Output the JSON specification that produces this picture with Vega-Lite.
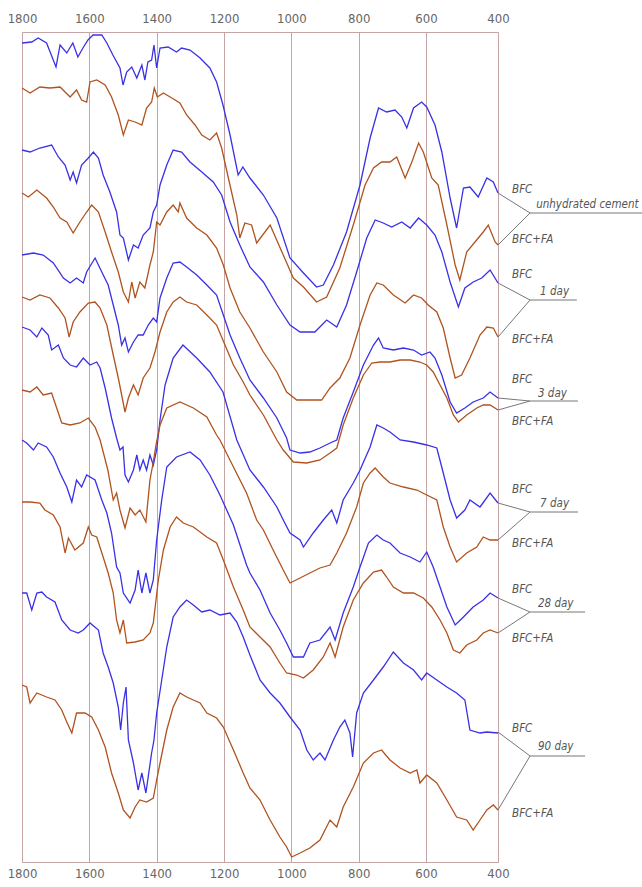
{
"$schema":"https://vega.github.io/schema/vega-lite/v6.json",
"width":476,"height":830,"autosize":"none",
"padding":{"left":22,"top":32,"right":144,"bottom":25},
"background":"white",
"config":{"view":{"stroke":"#c4a4a4","strokeWidth":1}},
"datasets":{
"spectra":[
{"s":1,"w":1800,"v":819},{"s":1,"w":1771,"v":820},{"s":1,"w":1752,"v":824},{"s":1,"w":1727,"v":819},{"s":1,"w":1699,"v":795},{"s":1,"w":1687,"v":817},{"s":1,"w":1667,"v":809},{"s":1,"w":1649,"v":819},{"s":1,"w":1634,"v":805},{"s":1,"w":1619,"v":814},{"s":1,"w":1604,"v":822},{"s":1,"w":1589,"v":827},{"s":1,"w":1563,"v":827},{"s":1,"w":1548,"v":819},{"s":1,"w":1530,"v":807},{"s":1,"w":1509,"v":794},{"s":1,"w":1500,"v":777},{"s":1,"w":1489,"v":790},{"s":1,"w":1474,"v":795},{"s":1,"w":1459,"v":784},{"s":1,"w":1444,"v":797},{"s":1,"w":1435,"v":782},{"s":1,"w":1426,"v":800},{"s":1,"w":1415,"v":802},{"s":1,"w":1408,"v":817},{"s":1,"w":1400,"v":794},{"s":1,"w":1390,"v":814},{"s":1,"w":1366,"v":815},{"s":1,"w":1341,"v":810},{"s":1,"w":1326,"v":814},{"s":1,"w":1301,"v":812},{"s":1,"w":1271,"v":804},{"s":1,"w":1242,"v":794},{"s":1,"w":1222,"v":780},{"s":1,"w":1203,"v":757},{"s":1,"w":1182,"v":727},{"s":1,"w":1158,"v":687},{"s":1,"w":1144,"v":695},{"s":1,"w":1123,"v":684},{"s":1,"w":1083,"v":667},{"s":1,"w":1043,"v":644},{"s":1,"w":1004,"v":604},{"s":1,"w":964,"v":589},{"s":1,"w":925,"v":575},{"s":1,"w":905,"v":577},{"s":1,"w":875,"v":597},{"s":1,"w":836,"v":630},{"s":1,"w":796,"v":677},{"s":1,"w":766,"v":724},{"s":1,"w":741,"v":754},{"s":1,"w":717,"v":750},{"s":1,"w":692,"v":752},{"s":1,"w":672,"v":745},{"s":1,"w":657,"v":734},{"s":1,"w":637,"v":754},{"s":1,"w":613,"v":760},{"s":1,"w":598,"v":755},{"s":1,"w":575,"v":737},{"s":1,"w":556,"v":710},{"s":1,"w":533,"v":664},{"s":1,"w":515,"v":634},{"s":1,"w":496,"v":674},{"s":1,"w":478,"v":675},{"s":1,"w":455,"v":665},{"s":1,"w":431,"v":684},{"s":1,"w":413,"v":680},{"s":1,"w":400,"v":669},
{"s":2,"w":1800,"v":774},{"s":2,"w":1776,"v":769},{"s":2,"w":1747,"v":775},{"s":2,"w":1717,"v":774},{"s":2,"w":1687,"v":775},{"s":2,"w":1657,"v":765},{"s":2,"w":1638,"v":772},{"s":2,"w":1623,"v":762},{"s":2,"w":1608,"v":760},{"s":2,"w":1598,"v":780},{"s":2,"w":1578,"v":782},{"s":2,"w":1553,"v":777},{"s":2,"w":1534,"v":765},{"s":2,"w":1514,"v":747},{"s":2,"w":1499,"v":727},{"s":2,"w":1484,"v":742},{"s":2,"w":1464,"v":740},{"s":2,"w":1444,"v":737},{"s":2,"w":1430,"v":754},{"s":2,"w":1415,"v":760},{"s":2,"w":1407,"v":774},{"s":2,"w":1398,"v":765},{"s":2,"w":1380,"v":769},{"s":2,"w":1355,"v":764},{"s":2,"w":1331,"v":759},{"s":2,"w":1311,"v":747},{"s":2,"w":1286,"v":737},{"s":2,"w":1266,"v":727},{"s":2,"w":1242,"v":722},{"s":2,"w":1222,"v":729},{"s":2,"w":1207,"v":714},{"s":2,"w":1187,"v":684},{"s":2,"w":1162,"v":647},{"s":2,"w":1153,"v":624},{"s":2,"w":1138,"v":639},{"s":2,"w":1118,"v":637},{"s":2,"w":1103,"v":619},{"s":2,"w":1063,"v":637},{"s":2,"w":1024,"v":607},{"s":2,"w":994,"v":584},{"s":2,"w":964,"v":575},{"s":2,"w":925,"v":560},{"s":2,"w":895,"v":565},{"s":2,"w":856,"v":594},{"s":2,"w":816,"v":637},{"s":2,"w":781,"v":677},{"s":2,"w":756,"v":694},{"s":2,"w":732,"v":700},{"s":2,"w":707,"v":700},{"s":2,"w":687,"v":705},{"s":2,"w":662,"v":684},{"s":2,"w":642,"v":700},{"s":2,"w":622,"v":719},{"s":2,"w":608,"v":710},{"s":2,"w":584,"v":684},{"s":2,"w":566,"v":677},{"s":2,"w":542,"v":637},{"s":2,"w":519,"v":597},{"s":2,"w":506,"v":582},{"s":2,"w":487,"v":610},{"s":2,"w":464,"v":620},{"s":2,"w":441,"v":630},{"s":2,"w":427,"v":637},{"s":2,"w":408,"v":620},{"s":2,"w":400,"v":617},
{"s":3,"w":1800,"v":712},{"s":3,"w":1776,"v":710},{"s":3,"w":1747,"v":714},{"s":3,"w":1712,"v":717},{"s":3,"w":1692,"v":705},{"s":3,"w":1672,"v":697},{"s":3,"w":1657,"v":682},{"s":3,"w":1648,"v":690},{"s":3,"w":1638,"v":679},{"s":3,"w":1623,"v":697},{"s":3,"w":1603,"v":704},{"s":3,"w":1588,"v":710},{"s":3,"w":1573,"v":704},{"s":3,"w":1559,"v":687},{"s":3,"w":1539,"v":670},{"s":3,"w":1519,"v":650},{"s":3,"w":1509,"v":627},{"s":3,"w":1499,"v":624},{"s":3,"w":1484,"v":602},{"s":3,"w":1469,"v":617},{"s":3,"w":1455,"v":614},{"s":3,"w":1440,"v":627},{"s":3,"w":1420,"v":634},{"s":3,"w":1410,"v":650},{"s":3,"w":1400,"v":657},{"s":3,"w":1390,"v":677},{"s":3,"w":1370,"v":697},{"s":3,"w":1351,"v":712},{"s":3,"w":1326,"v":710},{"s":3,"w":1301,"v":700},{"s":3,"w":1266,"v":690},{"s":3,"w":1232,"v":680},{"s":3,"w":1207,"v":667},{"s":3,"w":1182,"v":640},{"s":3,"w":1153,"v":617},{"s":3,"w":1123,"v":595},{"s":3,"w":1083,"v":580},{"s":3,"w":1043,"v":557},{"s":3,"w":1004,"v":537},{"s":3,"w":974,"v":530},{"s":3,"w":930,"v":530},{"s":3,"w":895,"v":542},{"s":3,"w":865,"v":535},{"s":3,"w":836,"v":557},{"s":3,"w":806,"v":590},{"s":3,"w":776,"v":624},{"s":3,"w":751,"v":642},{"s":3,"w":727,"v":639},{"s":3,"w":702,"v":635},{"s":3,"w":672,"v":640},{"s":3,"w":647,"v":634},{"s":3,"w":622,"v":644},{"s":3,"w":598,"v":637},{"s":3,"w":575,"v":627},{"s":3,"w":556,"v":610},{"s":3,"w":533,"v":580},{"s":3,"w":510,"v":555},{"s":3,"w":492,"v":574},{"s":3,"w":469,"v":580},{"s":3,"w":445,"v":584},{"s":3,"w":422,"v":592},{"s":3,"w":400,"v":579},
{"s":4,"w":1800,"v":669},{"s":4,"w":1781,"v":665},{"s":4,"w":1756,"v":672},{"s":4,"w":1727,"v":664},{"s":4,"w":1707,"v":655},{"s":4,"w":1687,"v":644},{"s":4,"w":1667,"v":640},{"s":4,"w":1648,"v":629},{"s":4,"w":1628,"v":640},{"s":4,"w":1608,"v":650},{"s":4,"w":1593,"v":657},{"s":4,"w":1573,"v":650},{"s":4,"w":1553,"v":630},{"s":4,"w":1534,"v":610},{"s":4,"w":1514,"v":590},{"s":4,"w":1499,"v":570},{"s":4,"w":1484,"v":560},{"s":4,"w":1474,"v":580},{"s":4,"w":1464,"v":564},{"s":4,"w":1450,"v":580},{"s":4,"w":1435,"v":574},{"s":4,"w":1420,"v":597},{"s":4,"w":1410,"v":610},{"s":4,"w":1400,"v":640},{"s":4,"w":1390,"v":637},{"s":4,"w":1370,"v":650},{"s":4,"w":1351,"v":657},{"s":4,"w":1336,"v":650},{"s":4,"w":1331,"v":659},{"s":4,"w":1311,"v":644},{"s":4,"w":1281,"v":634},{"s":4,"w":1251,"v":627},{"s":4,"w":1222,"v":614},{"s":4,"w":1202,"v":597},{"s":4,"w":1182,"v":574},{"s":4,"w":1153,"v":550},{"s":4,"w":1123,"v":534},{"s":4,"w":1083,"v":510},{"s":4,"w":1043,"v":490},{"s":4,"w":1014,"v":470},{"s":4,"w":984,"v":462},{"s":4,"w":945,"v":462},{"s":4,"w":910,"v":462},{"s":4,"w":885,"v":474},{"s":4,"w":856,"v":484},{"s":4,"w":826,"v":504},{"s":4,"w":796,"v":537},{"s":4,"w":766,"v":567},{"s":4,"w":746,"v":579},{"s":4,"w":727,"v":577},{"s":4,"w":697,"v":567},{"s":4,"w":662,"v":559},{"s":4,"w":637,"v":567},{"s":4,"w":613,"v":564},{"s":4,"w":594,"v":557},{"s":4,"w":570,"v":550},{"s":4,"w":552,"v":534},{"s":4,"w":533,"v":504},{"s":4,"w":519,"v":484},{"s":4,"w":501,"v":487},{"s":4,"w":478,"v":504},{"s":4,"w":450,"v":527},{"s":4,"w":431,"v":535},{"s":4,"w":413,"v":534},{"s":4,"w":400,"v":525},
{"s":5,"w":1800,"v":607},{"s":5,"w":1766,"v":609},{"s":5,"w":1737,"v":607},{"s":5,"w":1707,"v":599},{"s":5,"w":1677,"v":584},{"s":5,"w":1657,"v":579},{"s":5,"w":1638,"v":584},{"s":5,"w":1618,"v":579},{"s":5,"w":1608,"v":590},{"s":5,"w":1583,"v":604},{"s":5,"w":1563,"v":590},{"s":5,"w":1544,"v":577},{"s":5,"w":1529,"v":557},{"s":5,"w":1514,"v":537},{"s":5,"w":1504,"v":517},{"s":5,"w":1494,"v":524},{"s":5,"w":1484,"v":510},{"s":5,"w":1469,"v":520},{"s":5,"w":1455,"v":527},{"s":5,"w":1440,"v":527},{"s":5,"w":1425,"v":537},{"s":5,"w":1410,"v":544},{"s":5,"w":1400,"v":540},{"s":5,"w":1390,"v":564},{"s":5,"w":1370,"v":584},{"s":5,"w":1351,"v":599},{"s":5,"w":1331,"v":600},{"s":5,"w":1311,"v":595},{"s":5,"w":1281,"v":587},{"s":5,"w":1251,"v":577},{"s":5,"w":1222,"v":567},{"s":5,"w":1202,"v":547},{"s":5,"w":1182,"v":527},{"s":5,"w":1153,"v":504},{"s":5,"w":1123,"v":482},{"s":5,"w":1083,"v":464},{"s":5,"w":1043,"v":444},{"s":5,"w":1014,"v":424},{"s":5,"w":1004,"v":412},{"s":5,"w":974,"v":409},{"s":5,"w":945,"v":410},{"s":5,"w":915,"v":414},{"s":5,"w":885,"v":419},{"s":5,"w":865,"v":422},{"s":5,"w":846,"v":444},{"s":5,"w":816,"v":470},{"s":5,"w":786,"v":497},{"s":5,"w":756,"v":517},{"s":5,"w":741,"v":524},{"s":5,"w":727,"v":514},{"s":5,"w":697,"v":512},{"s":5,"w":667,"v":514},{"s":5,"w":637,"v":512},{"s":5,"w":613,"v":507},{"s":5,"w":589,"v":510},{"s":5,"w":575,"v":504},{"s":5,"w":556,"v":487},{"s":5,"w":533,"v":460},{"s":5,"w":515,"v":449},{"s":5,"w":492,"v":454},{"s":5,"w":469,"v":460},{"s":5,"w":441,"v":464},{"s":5,"w":422,"v":470},{"s":5,"w":400,"v":464},
{"s":6,"w":1800,"v":565},{"s":6,"w":1776,"v":562},{"s":6,"w":1747,"v":567},{"s":6,"w":1717,"v":564},{"s":6,"w":1692,"v":554},{"s":6,"w":1672,"v":544},{"s":6,"w":1660,"v":525},{"s":6,"w":1648,"v":540},{"s":6,"w":1628,"v":550},{"s":6,"w":1603,"v":559},{"s":6,"w":1583,"v":560},{"s":6,"w":1568,"v":554},{"s":6,"w":1548,"v":537},{"s":6,"w":1529,"v":507},{"s":6,"w":1514,"v":484},{"s":6,"w":1504,"v":467},{"s":6,"w":1494,"v":450},{"s":6,"w":1484,"v":464},{"s":6,"w":1469,"v":477},{"s":6,"w":1455,"v":467},{"s":6,"w":1440,"v":484},{"s":6,"w":1420,"v":494},{"s":6,"w":1405,"v":510},{"s":6,"w":1390,"v":530},{"s":6,"w":1370,"v":550},{"s":6,"w":1351,"v":560},{"s":6,"w":1331,"v":565},{"s":6,"w":1311,"v":560},{"s":6,"w":1281,"v":557},{"s":6,"w":1251,"v":547},{"s":6,"w":1222,"v":537},{"s":6,"w":1197,"v":517},{"s":6,"w":1172,"v":497},{"s":6,"w":1143,"v":480},{"s":6,"w":1123,"v":467},{"s":6,"w":1083,"v":447},{"s":6,"w":1043,"v":422},{"s":6,"w":1024,"v":412},{"s":6,"w":994,"v":400},{"s":6,"w":954,"v":399},{"s":6,"w":915,"v":402},{"s":6,"w":885,"v":409},{"s":6,"w":865,"v":414},{"s":6,"w":846,"v":437},{"s":6,"w":816,"v":464},{"s":6,"w":786,"v":487},{"s":6,"w":761,"v":499},{"s":6,"w":737,"v":500},{"s":6,"w":707,"v":500},{"s":6,"w":677,"v":502},{"s":6,"w":647,"v":502},{"s":6,"w":618,"v":500},{"s":6,"w":598,"v":497},{"s":6,"w":580,"v":490},{"s":6,"w":561,"v":477},{"s":6,"w":542,"v":464},{"s":6,"w":524,"v":447},{"s":6,"w":510,"v":440},{"s":6,"w":487,"v":447},{"s":6,"w":459,"v":454},{"s":6,"w":441,"v":457},{"s":6,"w":422,"v":457},{"s":6,"w":400,"v":452},
{"s":7,"w":1800,"v":535},{"s":7,"w":1776,"v":532},{"s":7,"w":1756,"v":525},{"s":7,"w":1741,"v":534},{"s":7,"w":1722,"v":527},{"s":7,"w":1712,"v":512},{"s":7,"w":1692,"v":517},{"s":7,"w":1677,"v":504},{"s":7,"w":1657,"v":497},{"s":7,"w":1638,"v":495},{"s":7,"w":1618,"v":504},{"s":7,"w":1598,"v":497},{"s":7,"w":1578,"v":500},{"s":7,"w":1568,"v":494},{"s":7,"w":1553,"v":474},{"s":7,"w":1534,"v":444},{"s":7,"w":1519,"v":424},{"s":7,"w":1509,"v":412},{"s":7,"w":1500,"v":415},{"s":7,"w":1494,"v":387},{"s":7,"w":1484,"v":380},{"s":7,"w":1469,"v":392},{"s":7,"w":1459,"v":407},{"s":7,"w":1450,"v":392},{"s":7,"w":1440,"v":402},{"s":7,"w":1430,"v":392},{"s":7,"w":1420,"v":407},{"s":7,"w":1410,"v":397},{"s":7,"w":1400,"v":412},{"s":7,"w":1390,"v":442},{"s":7,"w":1375,"v":477},{"s":7,"w":1351,"v":504},{"s":7,"w":1322,"v":517},{"s":7,"w":1281,"v":504},{"s":7,"w":1242,"v":490},{"s":7,"w":1203,"v":470},{"s":7,"w":1162,"v":422},{"s":7,"w":1123,"v":392},{"s":7,"w":1083,"v":375},{"s":7,"w":1043,"v":355},{"s":7,"w":1024,"v":342},{"s":7,"w":1004,"v":329},{"s":7,"w":974,"v":322},{"s":7,"w":964,"v":315},{"s":7,"w":935,"v":329},{"s":7,"w":905,"v":342},{"s":7,"w":880,"v":352},{"s":7,"w":865,"v":339},{"s":7,"w":846,"v":362},{"s":7,"w":816,"v":379},{"s":7,"w":796,"v":392},{"s":7,"w":766,"v":415},{"s":7,"w":746,"v":437},{"s":7,"w":727,"v":434},{"s":7,"w":707,"v":430},{"s":7,"w":677,"v":422},{"s":7,"w":637,"v":420},{"s":7,"w":598,"v":417},{"s":7,"w":570,"v":414},{"s":7,"w":552,"v":389},{"s":7,"w":533,"v":362},{"s":7,"w":515,"v":344},{"s":7,"w":492,"v":352},{"s":7,"w":478,"v":362},{"s":7,"w":450,"v":355},{"s":7,"w":422,"v":369},{"s":7,"w":400,"v":359},
{"s":8,"w":1800,"v":472},{"s":8,"w":1776,"v":470},{"s":8,"w":1756,"v":475},{"s":8,"w":1737,"v":467},{"s":8,"w":1712,"v":469},{"s":8,"w":1697,"v":454},{"s":8,"w":1682,"v":439},{"s":8,"w":1657,"v":437},{"s":8,"w":1628,"v":439},{"s":8,"w":1603,"v":444},{"s":8,"w":1583,"v":435},{"s":8,"w":1568,"v":422},{"s":8,"w":1545,"v":392},{"s":8,"w":1529,"v":362},{"s":8,"w":1519,"v":369},{"s":8,"w":1509,"v":352},{"s":8,"w":1494,"v":334},{"s":8,"w":1479,"v":354},{"s":8,"w":1464,"v":347},{"s":8,"w":1450,"v":352},{"s":8,"w":1432,"v":340},{"s":8,"w":1420,"v":382},{"s":8,"w":1410,"v":400},{"s":8,"w":1402,"v":417},{"s":8,"w":1390,"v":437},{"s":8,"w":1370,"v":454},{"s":8,"w":1331,"v":460},{"s":8,"w":1291,"v":454},{"s":8,"w":1251,"v":445},{"s":8,"w":1222,"v":427},{"s":8,"w":1212,"v":422},{"s":8,"w":1172,"v":395},{"s":8,"w":1133,"v":369},{"s":8,"w":1103,"v":342},{"s":8,"w":1083,"v":332},{"s":8,"w":1054,"v":312},{"s":8,"w":1024,"v":292},{"s":8,"w":1004,"v":279},{"s":8,"w":974,"v":284},{"s":8,"w":945,"v":289},{"s":8,"w":915,"v":294},{"s":8,"w":885,"v":297},{"s":8,"w":865,"v":309},{"s":8,"w":836,"v":329},{"s":8,"w":806,"v":355},{"s":8,"w":786,"v":379},{"s":8,"w":766,"v":389},{"s":8,"w":751,"v":394},{"s":8,"w":727,"v":385},{"s":8,"w":707,"v":379},{"s":8,"w":667,"v":375},{"s":8,"w":627,"v":372},{"s":8,"w":598,"v":367},{"s":8,"w":570,"v":362},{"s":8,"w":552,"v":335},{"s":8,"w":533,"v":315},{"s":8,"w":515,"v":300},{"s":8,"w":487,"v":309},{"s":8,"w":459,"v":315},{"s":8,"w":441,"v":325},{"s":8,"w":422,"v":322},{"s":8,"w":400,"v":322},
{"s":9,"w":1800,"v":422},{"s":9,"w":1786,"v":419},{"s":9,"w":1766,"v":412},{"s":9,"w":1752,"v":419},{"s":9,"w":1727,"v":415},{"s":9,"w":1707,"v":405},{"s":9,"w":1687,"v":389},{"s":9,"w":1667,"v":375},{"s":9,"w":1652,"v":360},{"s":9,"w":1638,"v":382},{"s":9,"w":1623,"v":375},{"s":9,"w":1608,"v":387},{"s":9,"w":1583,"v":382},{"s":9,"w":1563,"v":362},{"s":9,"w":1548,"v":349},{"s":9,"w":1534,"v":329},{"s":9,"w":1519,"v":295},{"s":9,"w":1509,"v":289},{"s":9,"w":1499,"v":269},{"s":9,"w":1479,"v":259},{"s":9,"w":1464,"v":272},{"s":9,"w":1455,"v":292},{"s":9,"w":1444,"v":269},{"s":9,"w":1432,"v":289},{"s":9,"w":1420,"v":269},{"s":9,"w":1410,"v":282},{"s":9,"w":1400,"v":322},{"s":9,"w":1385,"v":362},{"s":9,"w":1370,"v":395},{"s":9,"w":1341,"v":405},{"s":9,"w":1301,"v":410},{"s":9,"w":1271,"v":402},{"s":9,"w":1242,"v":387},{"s":9,"w":1212,"v":367},{"s":9,"w":1172,"v":337},{"s":9,"w":1133,"v":297},{"s":9,"w":1123,"v":289},{"s":9,"w":1093,"v":272},{"s":9,"w":1063,"v":249},{"s":9,"w":1034,"v":232},{"s":9,"w":1014,"v":219},{"s":9,"w":994,"v":205},{"s":9,"w":964,"v":205},{"s":9,"w":945,"v":219},{"s":9,"w":915,"v":222},{"s":9,"w":885,"v":235},{"s":9,"w":870,"v":222},{"s":9,"w":846,"v":249},{"s":9,"w":816,"v":275},{"s":9,"w":796,"v":295},{"s":9,"w":771,"v":319},{"s":9,"w":746,"v":327},{"s":9,"w":727,"v":322},{"s":9,"w":707,"v":319},{"s":9,"w":677,"v":309},{"s":9,"w":647,"v":305},{"s":9,"w":618,"v":300},{"s":9,"w":598,"v":310},{"s":9,"w":580,"v":295},{"s":9,"w":561,"v":275},{"s":9,"w":542,"v":255},{"s":9,"w":519,"v":237},{"s":9,"w":496,"v":245},{"s":9,"w":469,"v":255},{"s":9,"w":441,"v":262},{"s":9,"w":422,"v":269},{"s":9,"w":400,"v":264},
{"s":10,"w":1800,"v":360},{"s":10,"w":1776,"v":360},{"s":10,"w":1747,"v":359},{"s":10,"w":1732,"v":352},{"s":10,"w":1707,"v":347},{"s":10,"w":1687,"v":335},{"s":10,"w":1672,"v":309},{"s":10,"w":1662,"v":324},{"s":10,"w":1643,"v":312},{"s":10,"w":1618,"v":319},{"s":10,"w":1603,"v":335},{"s":10,"w":1593,"v":327},{"s":10,"w":1578,"v":325},{"s":10,"w":1559,"v":305},{"s":10,"w":1544,"v":289},{"s":10,"w":1529,"v":269},{"s":10,"w":1519,"v":242},{"s":10,"w":1509,"v":229},{"s":10,"w":1499,"v":242},{"s":10,"w":1489,"v":219},{"s":10,"w":1464,"v":220},{"s":10,"w":1440,"v":222},{"s":10,"w":1420,"v":229},{"s":10,"w":1410,"v":239},{"s":10,"w":1402,"v":262},{"s":10,"w":1395,"v":282},{"s":10,"w":1380,"v":312},{"s":10,"w":1360,"v":335},{"s":10,"w":1341,"v":345},{"s":10,"w":1321,"v":339},{"s":10,"w":1291,"v":335},{"s":10,"w":1251,"v":325},{"s":10,"w":1222,"v":319},{"s":10,"w":1202,"v":302},{"s":10,"w":1172,"v":275},{"s":10,"w":1143,"v":252},{"s":10,"w":1123,"v":235},{"s":10,"w":1093,"v":225},{"s":10,"w":1063,"v":215},{"s":10,"w":1034,"v":199},{"s":10,"w":1014,"v":189},{"s":10,"w":984,"v":187},{"s":10,"w":964,"v":184},{"s":10,"w":935,"v":192},{"s":10,"w":905,"v":205},{"s":10,"w":885,"v":219},{"s":10,"w":870,"v":205},{"s":10,"w":846,"v":235},{"s":10,"w":816,"v":262},{"s":10,"w":786,"v":279},{"s":10,"w":756,"v":290},{"s":10,"w":732,"v":292},{"s":10,"w":717,"v":285},{"s":10,"w":697,"v":275},{"s":10,"w":667,"v":269},{"s":10,"w":637,"v":269},{"s":10,"w":608,"v":264},{"s":10,"w":584,"v":255},{"s":10,"w":561,"v":242},{"s":10,"w":542,"v":229},{"s":10,"w":524,"v":212},{"s":10,"w":506,"v":209},{"s":10,"w":487,"v":217},{"s":10,"w":459,"v":222},{"s":10,"w":441,"v":229},{"s":10,"w":422,"v":232},{"s":10,"w":400,"v":229},
{"s":11,"w":1800,"v":269},{"s":11,"w":1786,"v":269},{"s":11,"w":1771,"v":252},{"s":11,"w":1756,"v":269},{"s":11,"w":1741,"v":270},{"s":11,"w":1727,"v":265},{"s":11,"w":1702,"v":260},{"s":11,"w":1682,"v":242},{"s":11,"w":1657,"v":232},{"s":11,"w":1633,"v":229},{"s":11,"w":1618,"v":232},{"s":11,"w":1598,"v":239},{"s":11,"w":1573,"v":232},{"s":11,"w":1559,"v":209},{"s":11,"w":1544,"v":195},{"s":11,"w":1529,"v":179},{"s":11,"w":1514,"v":155},{"s":11,"w":1507,"v":132},{"s":11,"w":1499,"v":159},{"s":11,"w":1491,"v":175},{"s":11,"w":1484,"v":122},{"s":11,"w":1469,"v":99},{"s":11,"w":1455,"v":72},{"s":11,"w":1444,"v":89},{"s":11,"w":1432,"v":69},{"s":11,"w":1415,"v":109},{"s":11,"w":1408,"v":122},{"s":11,"w":1400,"v":149},{"s":11,"w":1385,"v":182},{"s":11,"w":1370,"v":215},{"s":11,"w":1351,"v":245},{"s":11,"w":1331,"v":255},{"s":11,"w":1311,"v":262},{"s":11,"w":1291,"v":257},{"s":11,"w":1266,"v":250},{"s":11,"w":1242,"v":252},{"s":11,"w":1212,"v":247},{"s":11,"w":1182,"v":249},{"s":11,"w":1162,"v":240},{"s":11,"w":1143,"v":225},{"s":11,"w":1123,"v":207},{"s":11,"w":1093,"v":182},{"s":11,"w":1063,"v":169},{"s":11,"w":1034,"v":159},{"s":11,"w":1004,"v":145},{"s":11,"w":974,"v":132},{"s":11,"w":954,"v":112},{"s":11,"w":935,"v":102},{"s":11,"w":915,"v":109},{"s":11,"w":900,"v":102},{"s":11,"w":875,"v":122},{"s":11,"w":856,"v":135},{"s":11,"w":841,"v":142},{"s":11,"w":826,"v":129},{"s":11,"w":818,"v":105},{"s":11,"w":806,"v":149},{"s":11,"w":786,"v":169},{"s":11,"w":756,"v":182},{"s":11,"w":727,"v":195},{"s":11,"w":697,"v":210},{"s":11,"w":667,"v":199},{"s":11,"w":637,"v":192},{"s":11,"w":613,"v":182},{"s":11,"w":598,"v":189},{"s":11,"w":570,"v":182},{"s":11,"w":542,"v":175},{"s":11,"w":515,"v":169},{"s":11,"w":492,"v":162},{"s":11,"w":478,"v":132},{"s":11,"w":450,"v":129},{"s":11,"w":431,"v":130},{"s":11,"w":400,"v":129},
{"s":12,"w":1800,"v":177},{"s":12,"w":1786,"v":175},{"s":12,"w":1776,"v":159},{"s":12,"w":1756,"v":169},{"s":12,"w":1727,"v":165},{"s":12,"w":1702,"v":162},{"s":12,"w":1682,"v":152},{"s":12,"w":1667,"v":140},{"s":12,"w":1652,"v":129},{"s":12,"w":1638,"v":149},{"s":12,"w":1613,"v":149},{"s":12,"w":1593,"v":145},{"s":12,"w":1573,"v":132},{"s":12,"w":1553,"v":115},{"s":12,"w":1534,"v":89},{"s":12,"w":1514,"v":69},{"s":12,"w":1499,"v":52},{"s":12,"w":1479,"v":44},{"s":12,"w":1464,"v":55},{"s":12,"w":1450,"v":62},{"s":12,"w":1430,"v":60},{"s":12,"w":1410,"v":64},{"s":12,"w":1400,"v":82},{"s":12,"w":1390,"v":99},{"s":12,"w":1370,"v":132},{"s":12,"w":1351,"v":155},{"s":12,"w":1331,"v":169},{"s":12,"w":1311,"v":165},{"s":12,"w":1291,"v":162},{"s":12,"w":1271,"v":159},{"s":12,"w":1251,"v":149},{"s":12,"w":1222,"v":144},{"s":12,"w":1202,"v":135},{"s":12,"w":1172,"v":112},{"s":12,"w":1143,"v":89},{"s":12,"w":1123,"v":74},{"s":12,"w":1093,"v":62},{"s":12,"w":1063,"v":42},{"s":12,"w":1034,"v":25},{"s":12,"w":1014,"v":15},{"s":12,"w":999,"v":5},{"s":12,"w":974,"v":9},{"s":12,"w":945,"v":14},{"s":12,"w":915,"v":22},{"s":12,"w":885,"v":42},{"s":12,"w":865,"v":35},{"s":12,"w":846,"v":55},{"s":12,"w":816,"v":75},{"s":12,"w":786,"v":99},{"s":12,"w":756,"v":109},{"s":12,"w":732,"v":112},{"s":12,"w":707,"v":102},{"s":12,"w":677,"v":94},{"s":12,"w":647,"v":89},{"s":12,"w":627,"v":92},{"s":12,"w":618,"v":79},{"s":12,"w":598,"v":87},{"s":12,"w":570,"v":79},{"s":12,"w":542,"v":62},{"s":12,"w":515,"v":45},{"s":12,"w":487,"v":42},{"s":12,"w":469,"v":32},{"s":12,"w":450,"v":42},{"s":12,"w":431,"v":52},{"s":12,"w":413,"v":57},{"s":12,"w":400,"v":52}
],
"links":[
{"w":400,"v":669,"w2":311,"v2":649},{"w":400,"v":617,"w2":311,"v2":649},{"w":311,"v":649,"w2":0,"v2":649},
{"w":400,"v":579,"w2":311,"v2":562},{"w":400,"v":525,"w2":311,"v2":562},{"w":311,"v":562,"w2":181,"v2":562},
{"w":400,"v":464,"w2":311,"v2":461},{"w":400,"v":452,"w2":311,"v2":461},{"w":311,"v":461,"w2":178,"v2":461},
{"w":400,"v":359,"w2":311,"v2":350},{"w":400,"v":322,"w2":311,"v2":350},{"w":311,"v":350,"w2":178,"v2":350},
{"w":400,"v":264,"w2":311,"v2":250},{"w":400,"v":229,"w2":311,"v2":250},{"w":311,"v":250,"w2":158,"v2":250},
{"w":400,"v":130,"w2":311,"v2":106},{"w":400,"v":52,"w2":311,"v2":106},{"w":311,"v":106,"w2":158,"v2":106}
],
"labels":[
{"t":"BFC","w":361,"v":669},{"t":"unhydrated cement","w":294,"v":654},{"t":"BFC+FA","w":361,"v":619},
{"t":"BFC","w":361,"v":584},{"t":"1 day","w":283,"v":567},{"t":"BFC+FA","w":361,"v":519},
{"t":"BFC","w":361,"v":479},{"t":"3 day","w":289,"v":465},{"t":"BFC+FA","w":361,"v":437},
{"t":"BFC","w":361,"v":369},{"t":"7 day","w":283,"v":355},{"t":"BFC+FA","w":361,"v":315},
{"t":"BFC","w":361,"v":269},{"t":"28 day","w":289,"v":255},{"t":"BFC+FA","w":361,"v":220},
{"t":"BFC","w":361,"v":130},{"t":"90 day","w":289,"v":112},{"t":"BFC+FA","w":361,"v":45}
]
},
"layer":[
{"data":{"name":"spectra"},
 "mark":{"type":"line","strokeWidth":1.3},
 "encoding":{
  "x":{"field":"w","type":"quantitative","scale":{"domain":[1800,600,400],"range":[0,404,476],"nice":false,"zero":false},
       "axis":{"orient":"bottom","values":[1800,1600,1400,1200,1000,800,600,400],"format":"d","title":null,"grid":true,"gridColor":"#c4a4a4","gridOpacity":1,"gridWidth":1,"ticks":false,"domain":false,"labelFlush":false,"labelOverlap":false,"labelFont":"DejaVu Sans Condensed, sans-serif","labelFontSize":13,"labelColor":"#666666","labelPadding":5}},
  "y":{"field":"v","type":"quantitative","scale":{"domain":[0,830],"nice":false,"zero":false},"axis":null},
  "color":{"field":"s","type":"nominal","scale":{"domain":[1,2,3,4,5,6,7,8,9,10,11,12],"range":["#3a30e6","#b0531f","#3a30e6","#b0531f","#3a30e6","#b0531f","#3a30e6","#b0531f","#3a30e6","#b0531f","#3a30e6","#b0531f"]},"legend":null}
 }},
{"data":{"name":"links"},
 "mark":{"type":"rule","color":"#777777","strokeWidth":1},
 "encoding":{
  "x":{"field":"w","type":"quantitative","scale":{"domain":[1800,600,400],"range":[0,404,476],"nice":false,"zero":false},"axis":{"orient":"top","values":[1800,1600,1400,1200,1000,800,600,400],"format":"d","title":null,"grid":false,"ticks":false,"domain":false,"labelFlush":false,"labelOverlap":false,"labelFont":"DejaVu Sans Condensed, sans-serif","labelFontSize":13,"labelColor":"#666666","labelPadding":7}},
  "x2":{"field":"w2"},
  "y":{"field":"v","type":"quantitative","scale":{"domain":[0,830],"nice":false,"zero":false},"axis":null},
  "y2":{"field":"v2"}
 }},
{"data":{"name":"labels"},
 "mark":{"type":"text","align":"left","baseline":"alphabetic","fontStyle":"italic","font":"DejaVu Sans Condensed, sans-serif","fontSize":11.5,"color":"#555555"},
 "encoding":{
  "x":{"field":"w","type":"quantitative","scale":{"domain":[1800,600,400],"range":[0,404,476],"nice":false,"zero":false},"axis":null},
  "y":{"field":"v","type":"quantitative","scale":{"domain":[0,830],"nice":false,"zero":false},"axis":null},
  "text":{"field":"t"}
 }}
],
"resolve":{"axis":{"x":"independent"}}
}
